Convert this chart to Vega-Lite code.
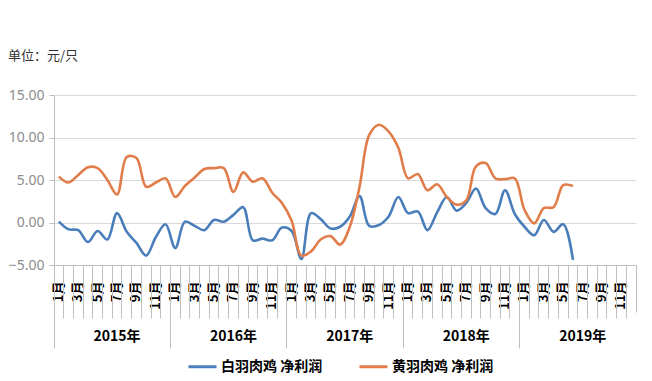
{
  "$schema": "https://vega.github.io/schema/vega-lite/v6.json",
  "autosize": {"type": "none"},
  "width": 582,
  "height": 170,
  "padding": {"left": 54, "top": 95, "right": 16, "bottom": 116},
  "title": {"text": "单位：元/只", "anchor": "start", "frame": "group", "dx": -46, "offset": 25, "fontSize": 13, "fontWeight": "normal", "color": "#333333", "font": "Noto Sans CJK SC"},
  "config": {"view": {"stroke": null}},
  "data": {"values": [
    {"m":"2015-01","w":0.1,"y":5.4},{"m":"2015-02","w":-0.8,"y":4.7},{"m":"2015-03","w":-0.9,"y":5.6},{"m":"2015-04","w":-2.3,"y":6.5},
    {"m":"2015-05","w":-1.0,"y":6.4},{"m":"2015-06","w":-2.0,"y":5.0},{"m":"2015-07","w":1.1,"y":3.3},{"m":"2015-08","w":-1.1,"y":7.7},
    {"m":"2015-09","w":-2.4,"y":7.6},{"m":"2015-10","w":-3.9,"y":4.2},{"m":"2015-11","w":-1.7,"y":4.7},{"m":"2015-12","w":-0.2,"y":5.2},
    {"m":"2016-01","w":-3.0,"y":3.0},{"m":"2016-02","w":0.1,"y":4.3},{"m":"2016-03","w":-0.4,"y":5.3},{"m":"2016-04","w":-0.9,"y":6.3},
    {"m":"2016-05","w":0.3,"y":6.4},{"m":"2016-06","w":0.1,"y":6.4},{"m":"2016-07","w":0.9,"y":3.6},{"m":"2016-08","w":1.8,"y":5.9},
    {"m":"2016-09","w":-2.1,"y":4.8},{"m":"2016-10","w":-1.9,"y":5.2},{"m":"2016-11","w":-2.1,"y":3.5},{"m":"2016-12","w":-0.6,"y":2.3},
    {"m":"2017-01","w":-1.0,"y":0.2},{"m":"2017-02","w":-4.3,"y":-3.9},{"m":"2017-03","w":1.1,"y":-3.4},{"m":"2017-04","w":0.4,"y":-2.0},
    {"m":"2017-05","w":-0.7,"y":-1.6},{"m":"2017-06","w":-0.5,"y":-2.6},{"m":"2017-07","w":0.7,"y":-0.5},{"m":"2017-08","w":3.1,"y":4.2},
    {"m":"2017-09","w":-0.4,"y":10.3},{"m":"2017-10","w":-0.3,"y":11.5},{"m":"2017-11","w":0.7,"y":10.7},{"m":"2017-12","w":3.0,"y":8.8},
    {"m":"2018-01","w":1.1,"y":5.2},{"m":"2018-02","w":1.3,"y":5.7},{"m":"2018-03","w":-0.9,"y":3.8},{"m":"2018-04","w":1.2,"y":4.5},
    {"m":"2018-05","w":3.0,"y":3.0},{"m":"2018-06","w":1.4,"y":2.1},{"m":"2018-07","w":2.3,"y":2.6},{"m":"2018-08","w":4.0,"y":6.6},
    {"m":"2018-09","w":1.7,"y":7.0},{"m":"2018-10","w":1.0,"y":5.2},{"m":"2018-11","w":3.8,"y":5.1},{"m":"2018-12","w":1.0,"y":5.2},
    {"m":"2019-01","w":-0.5,"y":1.5},{"m":"2019-02","w":-1.5,"y":-0.1},{"m":"2019-03","w":0.3,"y":1.7},{"m":"2019-04","w":-1.1,"y":1.8},
    {"m":"2019-05","w":-0.2,"y":4.4},{"m":"2019-06","w":-4.4,"y":4.3}
  ]},
  "transform": [{"fold": ["w", "y"], "as": ["s", "v"]}],
  "encoding": {
    "x": {"field": "m", "type": "ordinal", "sort": null,
      "scale": {"type": "band", "paddingInner": 0, "paddingOuter": 0, "domain": [
        "2015-01","2015-02","2015-03","2015-04","2015-05","2015-06","2015-07","2015-08","2015-09","2015-10","2015-11","2015-12",
        "2016-01","2016-02","2016-03","2016-04","2016-05","2016-06","2016-07","2016-08","2016-09","2016-10","2016-11","2016-12",
        "2017-01","2017-02","2017-03","2017-04","2017-05","2017-06","2017-07","2017-08","2017-09","2017-10","2017-11","2017-12",
        "2018-01","2018-02","2018-03","2018-04","2018-05","2018-06","2018-07","2018-08","2018-09","2018-10","2018-11","2018-12",
        "2019-01","2019-02","2019-03","2019-04","2019-05","2019-06","2019-07","2019-08","2019-09","2019-10","2019-11","2019-12"]}},
    "y": {"field": "v", "type": "quantitative",
      "scale": {"domain": [-5, 15], "nice": false},
      "axis": {"values": [-5, 0, 5, 10, 15], "format": ".2f", "title": null, "grid": true, "gridColor": "#d9d9d9", "domainColor": "#bfbfbf", "tickColor": "#bfbfbf", "tickSize": 5, "labelPadding": 5, "labelFontSize": 14, "labelColor": "#8c8c8c", "labelFont": "Noto Sans"}}
  },
  "layer": [
    {
      "mark": {"type": "line", "interpolate": "catmull-rom", "strokeWidth": 2.6},
      "encoding": {
        "x": {"field": "m", "type": "ordinal", "sort": null,
          "axis": {"orient": "bottom", "title": null, "grid": false, "ticks": false, "domainColor": "#bfbfbf", "labelAngle": 270, "labelAlign": "right", "labelBaseline": "middle", "labelPadding": 16, "labelOverlap": false, "labelFont": "Noto Sans CJK SC", "labelFontSize": 13, "labelFontWeight": "bold", "labelColor": "#000000",
            "labelExpr": "toNumber(substring(datum.value,5,7)) % 2 == 1 ? toNumber(substring(datum.value,5,7)) + '月' : ''"}},
        "color": {"field": "s", "type": "nominal",
          "scale": {"domain": ["w", "y"], "range": ["#4a7ebb", "#e07d4a"]},
          "legend": {"orient": "none", "legendX": 133, "legendY": 256, "direction": "horizontal", "title": null, "symbolType": "stroke", "symbolSize": 784, "symbolStrokeWidth": 3, "labelFontSize": 14, "labelFontWeight": "bold", "labelFont": "Noto Sans CJK SC", "labelColor": "#000000", "columnPadding": 30, "labelOffset": 3,
            "labelExpr": "datum.label == 'w' ? '白羽肉鸡 净利润' : '黄羽肉鸡 净利润'"}}
      }
    },
    {
      "mark": {"type": "point", "opacity": 0},
      "encoding": {
        "x": {"field": "m", "type": "ordinal", "sort": null,
          "axis": {"orient": "bottom", "title": null, "grid": false, "labels": false, "domain": false, "bandPosition": 0, "tickColor": "#bfbfbf",
            "tickSize": {"condition": {"test": "substring(datum.value,5,7) == '01'", "value": 83}, "value": 53}}}
      }
    },
    {
      "mark": {"type": "point", "opacity": 0},
      "encoding": {
        "x": {"field": "m", "type": "ordinal", "sort": null,
          "axis": {"orient": "bottom", "title": null, "grid": false, "labels": false, "domain": false, "bandPosition": 1, "values": ["2019-12"], "tickColor": "#bfbfbf", "tickSize": 47}}
      }
    },
    {
      "mark": {"type": "point", "opacity": 0},
      "encoding": {
        "x": {"field": "m", "type": "ordinal", "sort": null,
          "axis": {"orient": "bottom", "title": null, "grid": false, "ticks": false, "domain": false, "bandPosition": 0, "values": ["2015-07","2016-07","2017-07","2018-07","2019-07"], "labelAngle": 0, "labelAlign": "center", "labelBaseline": "top", "labelPadding": 64, "labelOverlap": false, "labelFont": "Noto Sans CJK SC", "labelFontSize": 14, "labelFontWeight": "bold", "labelColor": "#000000",
            "labelExpr": "substring(datum.value,0,4) + '年'"}}
      }
    }
  ],
  "resolve": {"axis": {"x": "independent"}}
}
